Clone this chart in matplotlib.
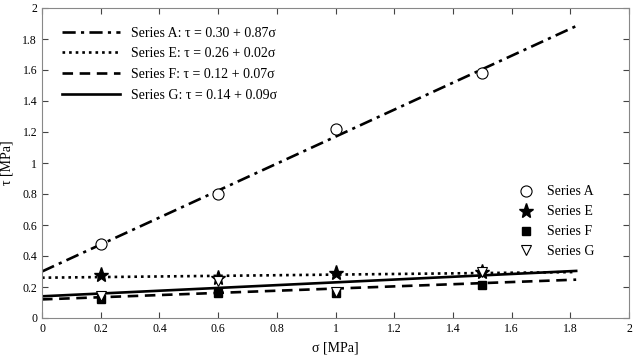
import numpy as np
import matplotlib.pyplot as plt

plt.rcParams['font.family'] = ['Liberation Serif', 'DejaVu Serif']

# measured points
sigma = [0.2, 0.6, 1.0, 1.5]
tau_A = [0.48, 0.80, 1.22, 1.58]
tau_E = [0.28, 0.26, 0.29, 0.30]
tau_F = [0.12, 0.16, 0.16, 0.21]
tau_G = [0.14, 0.24, 0.17, 0.30]

# fitted lines from legend
names = ['A', 'E', 'F', 'G']
intercepts = [0.30, 0.26, 0.12, 0.14]
slopes = [0.87, 0.02, 0.07, 0.09]
fit_x = [0, 1.82]

fig = plt.figure(figsize=(6.33, 3.56), dpi=100)
ax = fig.add_axes([42/633, 38/356, 587/633, 310/356])

styles = [(0, (5, 2, 1.2, 2)), (0, (1, 1.5)), (0, (4, 2.5)), '-']
line_handles = []
xx = np.array(fit_x)
for n, b, m, ls in zip(names, intercepts, slopes, styles):
    h, = ax.plot(xx, b + m * xx, color='black', lw=1.9, ls=ls,
                 label='Series %s: τ = %.2f + %.2fσ' % (n, b, m))
    line_handles.append(h)

mk = []
mk.append(ax.plot(sigma, tau_A, 'o', mfc='white', mec='black', ms=8, mew=0.8, label='Series A')[0])
mk.append(ax.plot(sigma, tau_E, '*', color='black', ms=11, label='Series E')[0])
mk.append(ax.plot(sigma, tau_F, 's', color='black', ms=6, label='Series F')[0])
mk.append(ax.plot(sigma, tau_G, 'v', mfc='white', mec='black', ms=7.5, mew=0.8, label='Series G')[0])

leg1 = ax.legend(handles=line_handles, loc='upper left', bbox_to_anchor=(0.012, 0.98),
                 frameon=False, fontsize=10, handlelength=4.2, labelspacing=0.55)
ax.add_artist(leg1)
ax.legend(handles=mk, loc='center right', bbox_to_anchor=(0.962, 0.31),
          frameon=False, fontsize=10, labelspacing=0.5, handletextpad=0.5)

ax.set_xlim(0, 2)
ax.set_ylim(0, 2)
ticks = np.arange(0, 2.01, 0.2)
ax.set_xticks(ticks)
ax.set_yticks(ticks)
ax.set_xticklabels(['%g' % round(v, 1) for v in ticks])
ax.set_yticklabels(['%g' % round(v, 1) for v in ticks])
ax.tick_params(direction='in', top=True, right=True, labelsize=8.5, length=4, color='#444444')
for s in ax.spines.values():
    s.set_color('#888888')
ax.set_xlabel('σ [MPa]', fontsize=10, labelpad=5)
ax.set_ylabel('τ [MPa]', fontsize=10, labelpad=6)

fig.savefig('out.png', dpi=100)
